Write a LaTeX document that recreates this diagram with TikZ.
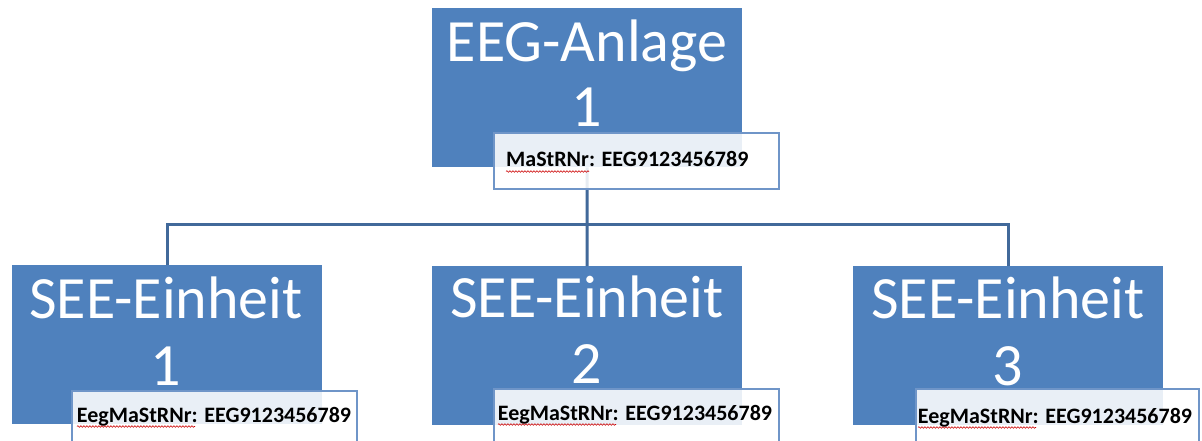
\documentclass[tikz,border=0pt]{standalone}
\usepackage{fontspec}
\setmainfont{Carlito}
\usetikzlibrary{decorations.pathmorphing}
\definecolor{ublue}{HTML}{4F81BD}
\definecolor{lblue}{HTML}{6F95C8}
\definecolor{cblue}{HTML}{41699A}
\begin{document}
\begin{tikzpicture}[x=1pt,y=-1pt,
  unitbox/.style={fill=ublue,draw=none,inner sep=0,minimum width=310pt,minimum height=159pt,anchor=north west},
  lblbox/.style={fill=white,fill opacity=0.88,draw=lblue,line width=1.6pt,inner sep=0,minimum width=285pt,minimum height=62pt,anchor=north west},
  title/.style={text=white,inner sep=0,anchor=base,font=\fontsize{60}{67}\selectfont},
  lbltext/.style={text=black,inner sep=0,anchor=base,font=\bfseries\fontsize{22}{26}\selectfont},
  conn/.style={draw=cblue,line width=3pt},
  squig/.style={draw=red!80!black,line width=0.6pt,decorate,decoration={snake,amplitude=0.8pt,segment length=3pt}}]
\useasboundingbox (0,0) rectangle (1202,441);
\fill[white] (0,0) rectangle (1202,441);
% blue boxes
\node[unitbox] (top) at (432,8) {};
\node[unitbox] (c1) at (12,265) {};
\node[unitbox] (c2) at (432,266) {};
\node[unitbox] (c3) at (853,266) {};
% connectors
\coordinate (bus) at (587,224);
\draw[conn] (top.south) -- (bus);
\draw[conn] (c1.north) |- (bus) -| (c3.north);
\draw[conn] (bus) -- (c2.north);
% titles
\node[title] (t0a) at (587,62) {EEG-Anlage};
\node[title] (t0b) at (587,127) {1};
\node[title] (t1a) at (166,318) {SEE-Einheit};
\node[title] (t1b) at (166,385) {1};
\node[title] (t2a) at (587,317) {SEE-Einheit};
\node[title] (t2b) at (587,383) {2};
\node[title] (t3a) at (1008,318) {SEE-Einheit};
\node[title] (t3b) at (1008,385) {3};
% label boxes
\node[lblbox,minimum height=56pt] (l0) at (493,132) {};
\node[lblbox] (l1) at (71,390) {};
\node[lblbox] (l2) at (493,388) {};
\node[lblbox,minimum width=283pt] (l3) at (915,388) {};
% label texts
\node[lbltext,anchor=base west] (x0) at (506,167) {MaStRNr: EEG9123456789};
\node[lbltext] (x1) at (214,422) {EegMaStRNr: EEG9123456789};
\node[lbltext] (x2) at (635,420) {EegMaStRNr: EEG9123456789};
\node[lbltext] (x3) at (1055,423) {EegMaStRNr: EEG9123456789};
% spell-check squiggles
\draw[squig] (506,171.5) -- (589,171.5);
\draw[squig] (77,426.5) -- (195,426.5);
\draw[squig] (498,424.5) -- (616,424.5);
\draw[squig] (918,427.5) -- (1036,427.5);
\end{tikzpicture}
\end{document}
